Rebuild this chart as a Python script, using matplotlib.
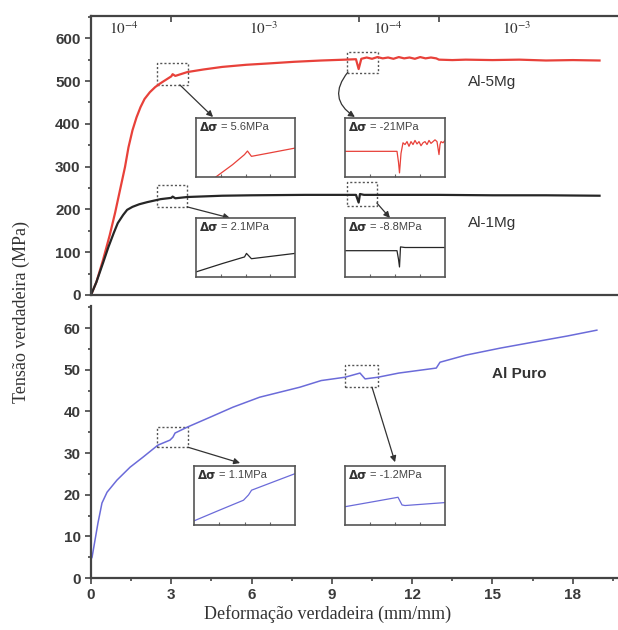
import matplotlib
matplotlib.use("Agg")
import matplotlib.pyplot as plt
from matplotlib.patches import Rectangle
from matplotlib.ticker import MultipleLocator

# true strain / true stress curves
strain_5mg = [0, 0.2, 0.45, 0.7, 0.9, 1.1, 1.27, 1.4, 1.55, 1.7, 1.85, 2.0, 2.2, 2.4, 2.6, 2.85,
              3.0, 3.05, 3.15, 3.6, 4.2, 4.9, 5.8, 6.6, 7.6, 8.6, 9.5, 9.9, 10.0, 10.1, 10.3,
              10.5, 10.7, 10.9, 11.1, 11.3, 11.5, 11.7, 11.9, 12.1, 12.3, 12.5, 12.7, 12.9,
              13.0, 13.5, 14.0, 15.0, 16.0, 17.0, 18.0, 19.0]
stress_5mg = [0, 30, 82, 140, 192, 250, 299, 345, 385, 415, 439, 458, 474, 486, 495, 505,
              511, 516, 512, 521, 527, 533, 538, 541, 545, 548, 550, 551, 528, 552, 555,
              552, 556, 553, 555, 552, 556, 553, 555, 552, 556, 553, 555, 553,
              550, 549, 550, 549, 550, 548, 549, 548]

strain_1mg = [0, 0.2, 0.45, 0.65, 0.85, 1.0, 1.2, 1.35, 1.55, 1.8, 2.1, 2.6, 3.0, 3.05, 3.15,
              3.6, 4.9, 6.0, 8.0, 9.9, 10.0, 10.05, 10.2, 11.0, 13.0, 15.0, 17.0, 19.0]
stress_1mg = [0, 30, 75, 112, 145, 168, 187, 199, 206, 212, 217, 224, 227, 230, 226,
              229, 232, 233, 234, 234, 216, 236, 234, 234, 234, 233, 233, 232]

strain_pure = [0.0, 0.04, 0.15, 0.26, 0.41, 0.6, 0.97, 1.46, 1.94, 2.5, 2.95, 3.06, 3.14, 3.59,
               4.45, 5.3, 6.3, 7.8, 8.6, 9.49, 10.05, 10.24, 10.72, 11.5, 12.9, 13.04, 14.0,
               15.3, 16.5, 17.8, 18.9]
stress_pure = [4.5, 5.0, 9.1, 13.2, 18.0, 20.6, 23.5, 26.6, 29.0, 31.9, 33.1, 33.8, 34.8, 36.2,
               38.6, 41.0, 43.4, 45.8, 47.4, 48.2, 49.2, 47.8, 48.2, 49.2, 50.4, 51.8, 53.5,
               55.2, 56.6, 58.1, 59.5]

# strain-rate changes along the test
rate_changes = [3, 10, 13]
rate_labels = [r"$10^{-4}$", r"$10^{-3}$", r"$10^{-4}$", r"$10^{-3}$"]
rate_label_x = [1.23, 6.46, 11.1, 15.9]

# zoomed details (normalised inset coordinates)
det_5mg_a_x = [0.2, 0.37, 0.49, 0.52, 0.56, 0.75, 1.0]
det_5mg_a_y = [0.0, 0.21, 0.38, 0.44, 0.35, 0.41, 0.49]
det_5mg_b_x = [0, 0.2, 0.4, 0.52, 0.535, 0.545, 0.56, 0.58, 0.6, 0.62, 0.64, 0.66, 0.68, 0.7,
               0.72, 0.74, 0.76, 0.78, 0.8, 0.82, 0.84, 0.86, 0.88, 0.9, 0.92, 0.94, 0.95,
               0.96, 0.98, 1.0]
det_5mg_b_y = [0.435, 0.435, 0.435, 0.435, 0.25, 0.07, 0.4, 0.58, 0.55, 0.6, 0.52, 0.6, 0.55,
               0.62, 0.56, 0.6, 0.53, 0.58, 0.6, 0.55, 0.62, 0.57, 0.6, 0.63, 0.6, 0.38, 0.55,
               0.6, 0.58, 0.62]
det_1mg_a_x = [0, 0.27, 0.49, 0.51, 0.56, 1.0]
det_1mg_a_y = [0.086, 0.23, 0.34, 0.4, 0.31, 0.4]
det_1mg_b_x = [0, 0.52, 0.535, 0.545, 0.555, 0.6, 1.0]
det_1mg_b_y = [0.446, 0.446, 0.3, 0.17, 0.51, 0.5, 0.5]
det_pure_a_x = [0, 0.25, 0.49, 0.54, 0.57, 0.8, 1.0]
det_pure_a_y = [0.07, 0.25, 0.42, 0.51, 0.59, 0.74, 0.87]
det_pure_b_x = [0, 0.3, 0.53, 0.57, 0.6, 1.0]
det_pure_b_y = [0.31, 0.4, 0.47, 0.34, 0.33, 0.38]

delta_labels = ["5.6MPa", "-21MPa", "2.1MPa", "-8.8MPa", "1.1MPa", "-1.2MPa"]

RED = "#e8413a"
BLACK = "#262626"
BLUE = "#6b6bd9"
AXC = "#444444"

W, H = 618, 630
fig = plt.figure(figsize=(6.18, 6.30), dpi=100)


def fig_box(x0, y0, x1, y1):
    # pixel box (top-left origin) -> figure fraction rect
    return [x0 / W, 1 - y1 / H, (x1 - x0) / W, (y1 - y0) / H]


def style_ticklabels(ax):
    for lab in ax.get_yticklabels() + ax.get_xticklabels():
        lab.set_fontfamily("Liberation Sans")
        lab.set_fontweight("bold")


ax1 = fig.add_axes(fig_box(91, 16, 618, 295))
ax2 = fig.add_axes(fig_box(91, 306, 618, 578))

for ax in (ax1, ax2):
    ax.set_xlim(0, 19.69)
    ax.spines["right"].set_visible(False)
    for s in ax.spines.values():
        s.set_color(AXC)
        s.set_linewidth(1.6)
    ax.tick_params(which="both", direction="out", color=AXC, width=1.2,
                   labelsize=11, labelcolor="#3a3a3a")
    ax.tick_params(which="major", length=4)
    ax.tick_params(which="minor", length=2.5)

# top panel: alloys
ax1.plot(strain_5mg, stress_5mg, color=RED, lw=1.6)
ax1.plot(strain_1mg, stress_1mg, color=BLACK, lw=1.6)
ax1.set_ylim(0, 652)
ax1.yaxis.set_major_locator(MultipleLocator(100))
ax1.yaxis.set_minor_locator(MultipleLocator(50))
ax1.xaxis.set_ticks_position("top")
ax1.set_xticks(rate_changes)
ax1.tick_params(axis="x", which="major", direction="in", length=4, labeltop=False)
style_ticklabels(ax1)
for lx, lt in zip(rate_label_x, rate_labels):
    ax1.text(lx, 0.955, lt, transform=ax1.get_xaxis_transform(), ha="center", va="center",
             fontsize=11, color="#333333", math_fontfamily="stix")
ax1.text(15.0, 498, "Al-5Mg", fontsize=11, color="#333333", ha="center", va="center",
         family="Liberation Sans")
ax1.text(15.0, 168, "Al-1Mg", fontsize=11, color="#333333", ha="center", va="center",
         family="Liberation Sans")

# bottom panel: pure aluminium
ax2.plot(strain_pure, stress_pure, color=BLUE, lw=1.1)
ax2.set_ylim(0, 65.3)
ax2.spines["top"].set_visible(False)
ax2.yaxis.set_major_locator(MultipleLocator(10))
ax2.yaxis.set_minor_locator(MultipleLocator(5))
ax2.set_xticks([0, 3, 6, 9, 12, 15, 18])
ax2.xaxis.set_minor_locator(MultipleLocator(1.5))
style_ticklabels(ax2)
ax2.text(16.0, 49, "Al Puro", fontsize=11, color="#333333", ha="center", va="center",
         family="Liberation Sans", fontweight="bold")

# dashed selection boxes on the curves
sel_boxes = [
    (ax1, 2.47, 491, 1.15, 51),
    (ax1, 9.56, 519, 1.16, 49),
    (ax1, 2.47, 206, 1.12, 51),
    (ax1, 9.56, 208, 1.12, 56),
    (ax2, 2.47, 31.4, 1.15, 4.8),
    (ax2, 9.49, 45.8, 1.23, 5.3),
]
for ax, x0, y0, w, h in sel_boxes:
    ax.add_patch(Rectangle((x0, y0), w, h, fill=False, ls=(0, (1.5, 1.5)),
                           ec="#555555", lw=1.0))

# arrows from selections to the zoomed views
arrows = [
    (ax1, (3.32, 491), (4.56, 416), "arc3,rad=0"),
    (ax1, (9.6, 521), (9.86, 416), "arc3,rad=0.55"),
    (ax1, (3.59, 206), (5.19, 180), "arc3,rad=0"),
    (ax1, (10.68, 215), (11.17, 180), "arc3,rad=0"),
    (ax2, (3.62, 31.4), (5.57, 27.6), "arc3,rad=0"),
    (ax2, (10.5, 45.8), (11.36, 27.8), "arc3,rad=0"),
]
for ax, p0, p1, cs in arrows:
    ax.annotate("", xy=p1, xytext=p0,
                arrowprops=dict(arrowstyle="-|>", color="#333333", lw=0.9,
                                mutation_scale=9, connectionstyle=cs,
                                shrinkA=0, shrinkB=0))

# zoomed insets
insets = [
    ((196, 118, 295, 177), det_5mg_a_x, det_5mg_a_y, RED),
    ((345, 118, 445, 177), det_5mg_b_x, det_5mg_b_y, RED),
    ((196, 218, 295, 277), det_1mg_a_x, det_1mg_a_y, BLACK),
    ((345, 218, 445, 277), det_1mg_b_x, det_1mg_b_y, BLACK),
    ((194, 466, 295, 525), det_pure_a_x, det_pure_a_y, BLUE),
    ((345, 466, 445, 525), det_pure_b_x, det_pure_b_y, BLUE),
]
for (box, dx, dy, col), lab in zip(insets, delta_labels):
    ia = fig.add_axes(fig_box(*box))
    ia.plot(dx, dy, color=col, lw=0.9)
    ia.set_xlim(0, 1)
    ia.set_ylim(0, 1)
    ia.set_xticks([0.25, 0.5, 0.75])
    ia.set_yticks([])
    ia.tick_params(axis="x", direction="in", length=2, color="#666666", labelbottom=False)
    for s in ia.spines.values():
        s.set_color("#555555")
        s.set_linewidth(1.2)
    ia.text(0.04, 0.84, "Δσ", transform=ia.transAxes, fontsize=8.5, fontweight="bold",
            color="#333333", va="center", family="DejaVu Sans")
    ia.text(0.25, 0.84, "= " + lab, transform=ia.transAxes, fontsize=8, color="#444444",
            va="center", family="Liberation Sans")

fig.text(0.035, 0.505, "Tensão verdadeira (MPa)", rotation=90, ha="center", va="center",
         fontsize=13, family="Liberation Serif", color="#333333")
fig.text(0.53, 0.025, "Deformação verdadeira (mm/mm)", ha="center", va="center",
         fontsize=13, family="Liberation Serif", color="#333333")

fig.savefig("out.png", dpi=100)
